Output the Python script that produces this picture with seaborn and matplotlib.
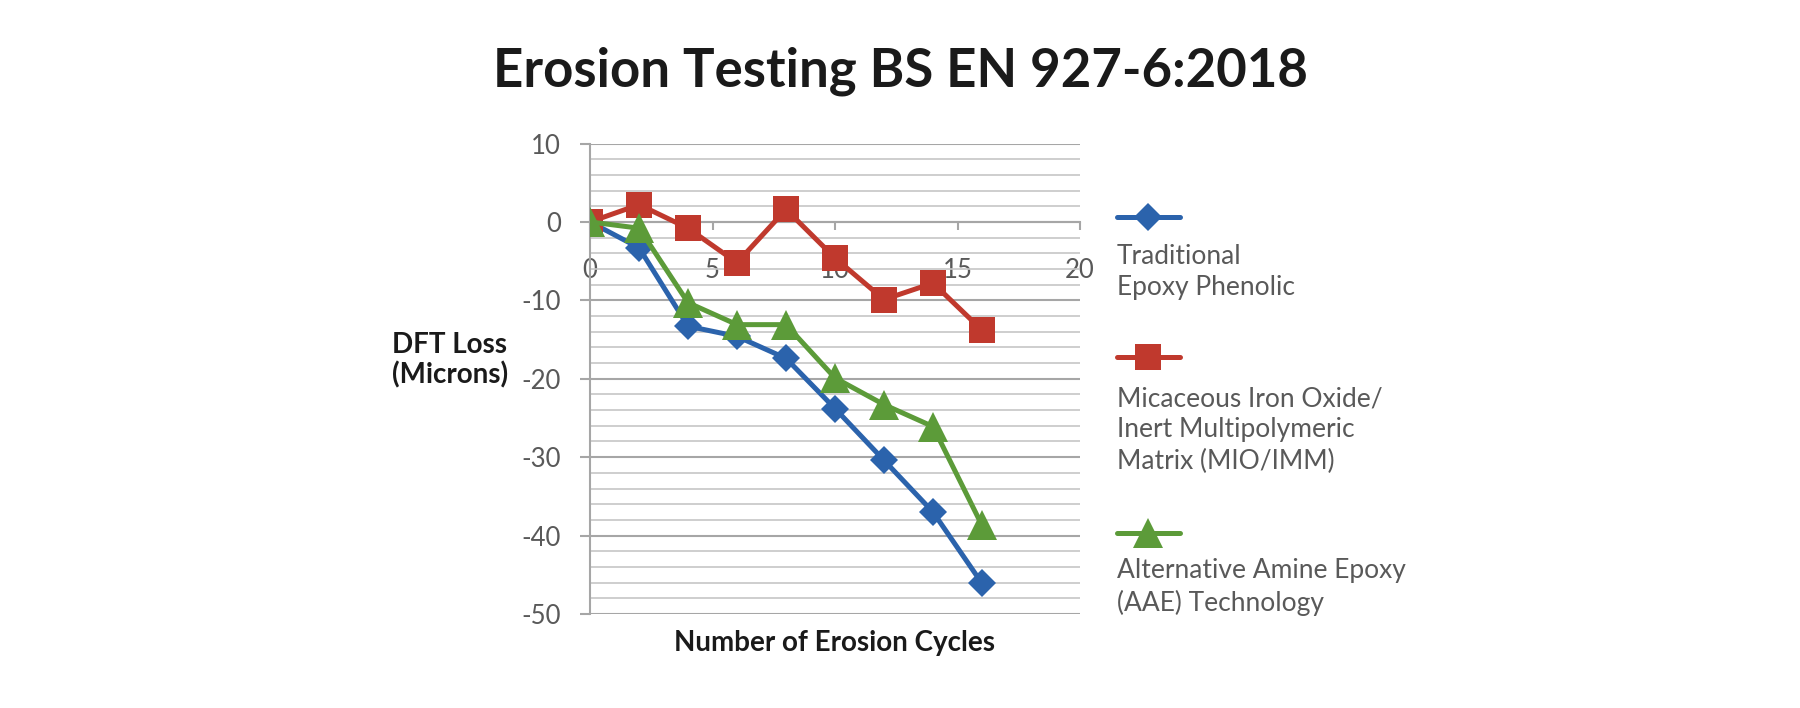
import pandas as pd
import matplotlib.pyplot as plt
import seaborn as sns
from matplotlib.lines import Line2D
from matplotlib.ticker import MultipleLocator

# data
cycles = [0, 2, 4, 6, 8, 10, 12, 14, 16]
epoxy_phenolic = [0, -3.3, -13.3, -14.6, -17.4, -23.8, -30.4, -37.0, -46.1]
mio_imm = [0, 2.2, -0.8, -5.2, 1.6, -4.6, -9.9, -7.8, -13.8]
aae_tech = [0, -0.8, -10.3, -13.1, -13.1, -19.9, -23.3, -26.1, -38.7]

series_names = [
    "Traditional\nEpoxy Phenolic",
    "Micaceous Iron Oxide/\nInert Multipolymeric\nMatrix (MIO/IMM)",
    "Alternative Amine Epoxy\n(AAE) Technology",
]
x_ticks = [0, 5, 10, 15, 20]

# long table for seaborn
df = pd.DataFrame({
    "cycles": cycles * 3,
    "loss": epoxy_phenolic + mio_imm + aae_tech,
    "series": [n for n in series_names for _ in cycles],
})

colors = ["#2b63ac", "#c0392d", "#5c9b39"]
markers = ["D", "s", "^"]
msizes = [14, 19, 21]

sns.set_theme(style="white")
plt.rcParams["font.family"] = ["Lato", "DejaVu Sans"]
plt.rcParams["axes.unicode_minus"] = False

fig = plt.figure(figsize=(18, 7.08), dpi=100)
ax = fig.add_axes([0.3278, 0.1328, 0.2722, 0.6645])

for name, col, mk, ms in zip(series_names, colors, markers, msizes):
    sub = df[df["series"] == name]
    sns.lineplot(data=sub, x="cycles", y="loss", ax=ax, color=col,
                 marker=mk, markersize=ms, markeredgewidth=0, linewidth=3.6,
                 legend=False, zorder=3)

ax.set_xlim(0, 20)
ax.set_ylim(-50, 10)
ax.set_xticks(x_ticks)
ax.yaxis.set_major_locator(MultipleLocator(10))
ax.yaxis.set_minor_locator(MultipleLocator(2))
ax.set_axisbelow(True)
ax.grid(axis="y", which="major", color="#a6a6a6", linewidth=1.5)
ax.grid(axis="y", which="minor", color="#c6c6c6", linewidth=1.2)
ax.grid(axis="x", visible=False)

for side in ["top", "right"]:
    ax.spines[side].set_visible(False)
ax.spines["bottom"].set_position(("data", 0))
ax.spines["bottom"].set_color("#a6a6a6")
ax.spines["bottom"].set_linewidth(1.5)
ax.spines["left"].set_color("#a6a6a6")
ax.spines["left"].set_linewidth(1.5)

ax.tick_params(axis="y", which="major", left=True, length=7, width=1.5,
               color="#a6a6a6", pad=14, labelsize=18.5, labelcolor="#595959")
ax.tick_params(axis="y", which="minor", length=0)
ax.tick_params(axis="x", bottom=True, length=6, width=1.5, color="#a6a6a6",
               pad=20, labelsize=18.5, labelcolor="#595959")
ax.set_xlabel("")
ax.set_ylabel("")

fig.text(0.5, 1 - 71 / 708, "Erosion Testing BS EN 927-6:2018",
         ha="center", va="center", fontsize=38, fontweight="bold", color="#1a1a1a")
fig.text(835 / 1800, 1 - 643 / 708, "Number of Erosion Cycles",
         ha="center", va="center", fontsize=20, fontweight="bold", color="#1a1a1a")
fig.text(450 / 1800, 1 - 360 / 708, "DFT Loss\n(Microns)",
         ha="center", va="center", fontsize=20, fontweight="bold",
         color="#1a1a1a", linespacing=1.15)

# legend drawn by hand: handle on its own line, label below it
handle_y = [217, 357, 533]
text_y = [272, 430, 587]
for name, col, mk, ms, hy, ty in zip(series_names, colors, markers, msizes,
                                     handle_y, text_y):
    fy = 1 - hy / 708
    fig.add_artist(Line2D([1117 / 1800, 1148 / 1800, 1180 / 1800], [fy, fy, fy],
                          transform=fig.transFigure, color=col, linewidth=3.6,
                          marker=mk, markersize=ms, markeredgewidth=0,
                          markevery=[1], solid_capstyle="round"))
    fig.text(1117 / 1800, 1 - ty / 708, name, ha="left", va="center",
             fontsize=19, color="#595959", linespacing=1.32)

plt.savefig("out.png", dpi=100)
